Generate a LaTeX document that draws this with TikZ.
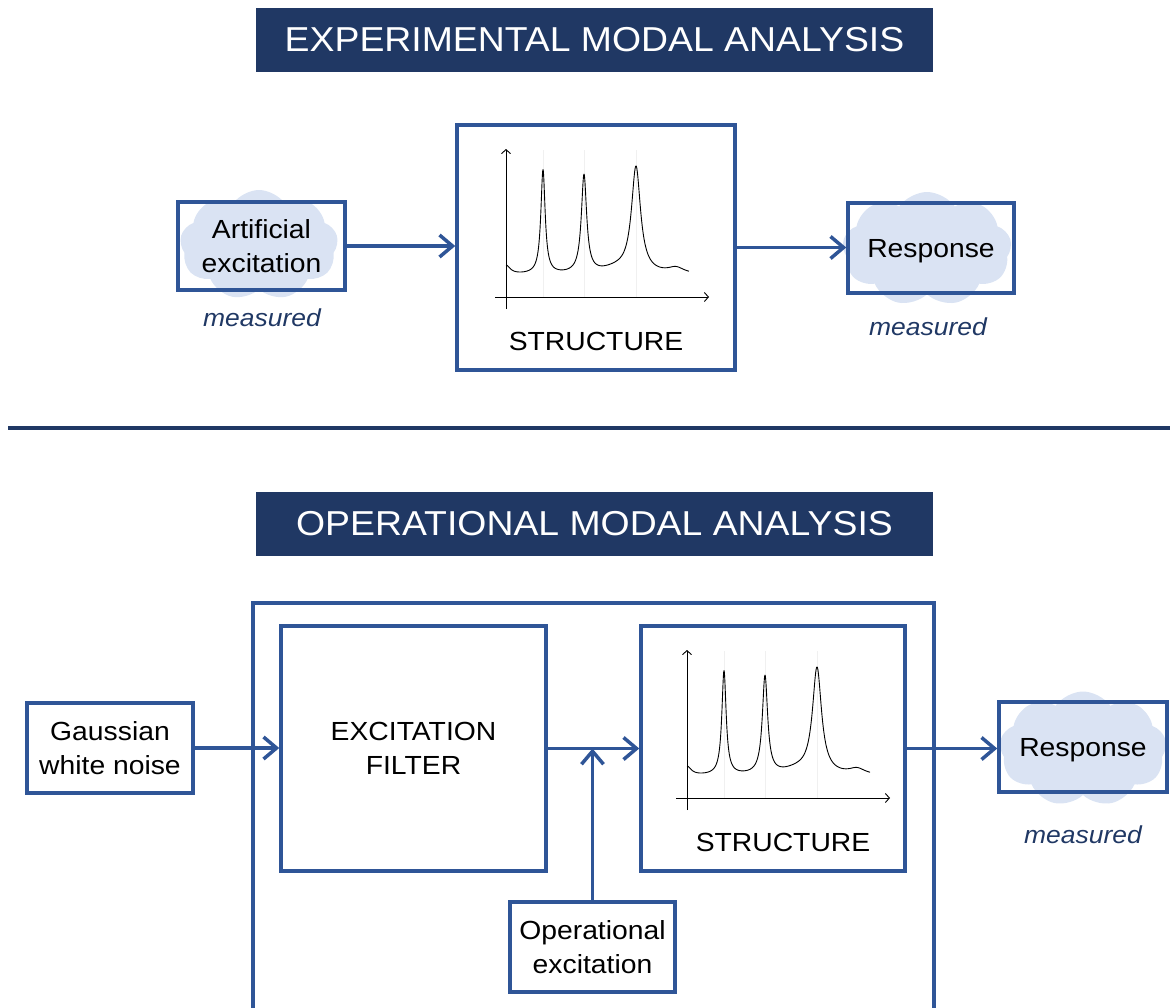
\documentclass[tikz,border=0pt]{standalone}
\usepackage{fontspec}
\setmainfont{Liberation Sans}[FakeStretch=1.08]
\usetikzlibrary{arrows.meta,shapes.symbols}
\definecolor{navy}{RGB}{32,56,100}
\definecolor{boxblue}{RGB}{47,85,151}
\definecolor{cloudfill}{RGB}{218,227,243}
\tikzset{
  titlebar/.style={fill=navy, text=white, minimum width=677pt, minimum height=64pt,
    inner sep=0pt, font=\fontsize{34.6}{40}\selectfont},
  blockbox/.style={draw=boxblue, line width=3.5pt, inner sep=0pt, align=center,
    font=\fontsize{26.2}{34.5}\selectfont},
  oneline/.style={text depth=0pt},
  caption/.style={inner sep=0pt, anchor=base, font=\fontsize{26.2}{30}\selectfont},
  puff/.style={cloud, cloud puffs=9, cloud puff arc=110, cloud ignores aspect,
    fill=cloudfill, draw=none, inner sep=0pt},
  note/.style={text=navy, inner sep=0pt, anchor=base,
    font=\fontsize{24.5}{30}\selectfont\itshape},
  flow/.style={draw=boxblue, line width=3.5pt,
    -{Straight Barb[length=13pt,width=22pt]}},
  frame/.style={draw=boxblue, line width=3.5pt},
  rule/.style={draw=navy, line width=4.5pt},
  axis/.style={line width=0.9pt, -{Straight Barb[length=4pt,width=9pt]}},
  % response spectrum; the picture's y axis points down, so heights are negated
  spectrum/.pic={
    \foreach \p in {37,78,130}
      \draw[gray!12, line width=0.6pt] (\p,0) -- (\p,-147);
    \draw[axis] (0,12) -- (0,-148);
    \draw[axis] (-11,0) -- (203,0);
    \draw[line width=0.9pt, line join=round]
      plot[domain=0:183, samples=550] (\x,{-spec(\x)});
  }
}
\begin{document}
\begin{tikzpicture}[x=1pt, y=-1pt,
  declare function={
    lor(\t,\c,\w,\a)=\a/(1+((\t-\c)/\w)*((\t-\c)/\w));
    spec(\t)=22+lor(\t,0,5,9)+lor(\t,110,18,5)+lor(\t,170,10,6)
             +lor(\t,37,2.6,104)+lor(\t,78,3.2,98)+lor(\t,130,5.5,106);
  }]
\useasboundingbox (0,0) rectangle (1170,1007);

% ---------- experimental modal analysis ----------
\node[titlebar] (t1) at (594.5,40) {EXPERIMENTAL MODAL ANALYSIS};

\node[puff, minimum width=158pt, minimum height=110pt] (c1) at (259,245) {};
\node[puff, minimum width=169pt, minimum height=114pt] (c2) at (927,249) {};

\node[blockbox, minimum width=167pt, minimum height=88pt] (art) at (261.5,246)
  {Artificial\\excitation};
\node[note] (m1) at (262,326) {measured};

\node[blockbox, minimum width=278pt, minimum height=245pt] (s1) at (596,247.5) {};
\pic at (506,297) {spectrum};
\node[caption] (s1lab) at (596,350) {STRUCTURE};

\node[blockbox, oneline, minimum width=166pt, minimum height=90pt] (r1) at (931,248)
  {Response};
\node[note] (m2) at (928,335) {measured};

\draw[flow] (art.east) -- (art.east -| s1.west);
\draw[flow] (s1.east) -- (s1.east -| r1.west);

% ---------- separator ----------
\draw[rule] (8,428) -- (1170,428);

% ---------- operational modal analysis ----------
\node[titlebar] (t2) at (594.5,524) {OPERATIONAL MODAL ANALYSIS};

\draw[frame] (253,1030) -- (253,603) -- (934,603) -- (934,1030);

\node[puff, minimum width=167pt, minimum height=115pt] (c3) at (1083,749) {};

\node[blockbox, minimum width=166pt, minimum height=90pt] (g) at (110,748)
  {Gaussian\\white noise};
\node[blockbox, minimum width=265pt, minimum height=245pt] (f) at (413.5,748.5)
  {EXCITATION\\FILTER};
\node[blockbox, minimum width=264pt, minimum height=245pt] (s2) at (773,748.5) {};
\pic at (687,798) {spectrum};
\node[caption] (s2lab) at (783,851) {STRUCTURE};

\node[blockbox, minimum width=165pt, minimum height=90pt] (op) at (592.5,947)
  {Operational\\excitation};
\node[blockbox, oneline, minimum width=168pt, minimum height=90pt] (r2) at (1083,747)
  {Response};
\node[note] (m3) at (1083,843) {measured};

\coordinate (j) at (op.north |- f.east);
\draw[flow] (g.east) -- (g.east -| f.west);
\draw[flow] (f.east) -- (f.east -| s2.west);
\draw[flow] (op.north) -- (j);
\draw[flow] (s2.east) -- (s2.east -| r2.west);
\end{tikzpicture}
\end{document}
